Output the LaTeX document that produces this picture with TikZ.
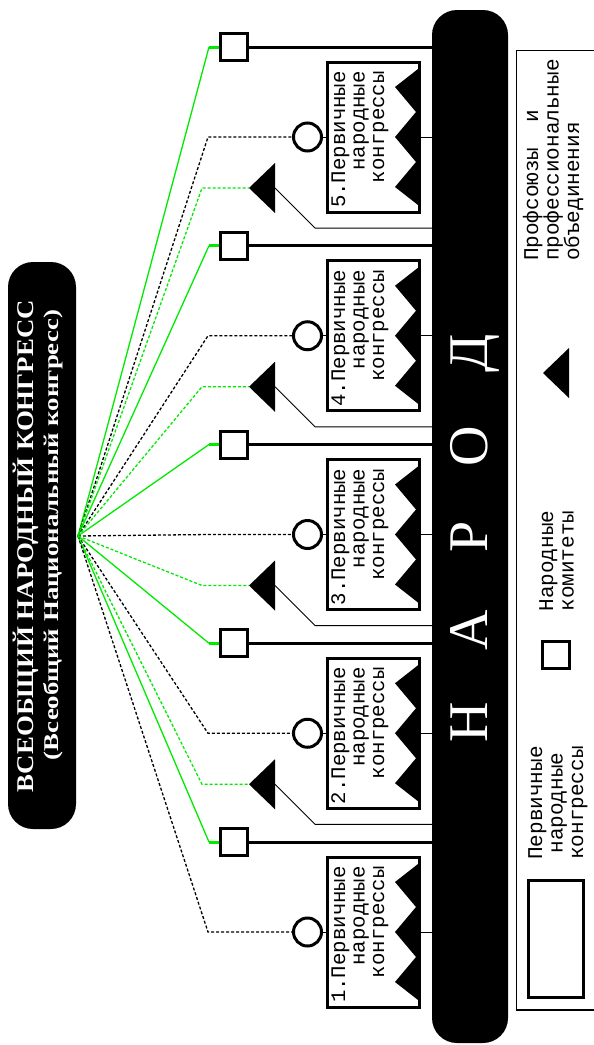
\documentclass[tikz,border=0pt]{standalone}
\usepackage{fontspec}
\usepackage{graphicx}
\setmainfont{Liberation Serif}
\newfontfamily\monof{Liberation Mono}
\definecolor{lgreen}{RGB}{0,235,0}
\pgfdeclarelayer{back}
\pgfdeclarelayer{bg}
\pgfsetlayers{back,bg,main}
\begin{document}
\begin{tikzpicture}[x=1pt,y=-1pt,
  sqnode/.style={draw, line width=3pt, minimum size=27pt, inner sep=0pt, fill=white},
  circnode/.style={draw, line width=3pt, circle, minimum size=28pt, inner sep=0pt, fill=white},
  cbox/.style={draw, line width=3pt, minimum width=92pt, minimum height=150pt, inner sep=0pt, fill=white},
  boxtext/.style={rotate=90, anchor=base east, align=right, inner sep=0pt, font=\monof\fontsize{20.7}{19.5}\selectfont},
  legtext/.style={rotate=90, inner sep=0pt, font=\monof\fontsize{21}{20.5}\selectfont},
  bigletter/.style={rotate=90, anchor=base, inner sep=0pt, text=white, font=\fontsize{56}{56}\selectfont},
  greenline/.style={draw=lgreen, line width=1.3pt},
  greenthick/.style={draw=lgreen, line width=3pt},
  greendash/.style={draw=lgreen, line width=1.3pt, dash pattern=on 3pt off 2pt},
  blackdash/.style={draw=black, line width=1.3pt, dash pattern=on 3pt off 2pt},
  thinline/.style={draw=black, line width=1pt},
  thickline/.style={draw=black, line width=3pt}
]
\useasboundingbox (0,0) rectangle (594,1045);
\begin{pgfonlayer}{back}
\fill[white] (0,0) rectangle (594,1045);
\end{pgfonlayer}

% header
\node[fill=black, rounded corners=25pt, minimum width=68pt, minimum height=567pt, inner sep=0pt] (hdr) at (42,545.5) {};
\node[rotate=90, anchor=base, text=white, inner sep=0pt] (hdrA) at (33,546)
  {\resizebox{492pt}{\height}{\fontsize{24}{24}\selectfont\bfseries ВСЕОБЩИЙ НАРОДНЫЙ КОНГРЕСС}};
\node[rotate=90, anchor=base, text=white, inner sep=0pt] (hdrB) at (58,535)
  {\resizebox{450pt}{\height}{\fontsize{21}{21}\selectfont\bfseries (Всеобщий Национальный конгресс)}};
\coordinate (F) at (78,536);

% people bar
\node[fill=black, rounded corners=25pt, minimum width=76pt, minimum height=1033pt, inner sep=0pt] (narod) at (470,526.5) {};
\node[bigletter] (lN) at (487,722) {Н};
\node[bigletter] (lA) at (487,630) {А};
\node[bigletter] (lR) at (487,537) {Р};
\node[bigletter] (lO) at (487,446) {О};
\node[bigletter] (lD) at (487,353) {Д};

% groups
\foreach \k in {1,...,5}{
  \pgfmathsetmacro{\yc}{932-198.75*(\k-1)}
  \pgfmathsetmacro{\ys}{\yc-90}
  \node[sqnode] (sq\k) at (234,\ys) {};
  \node[circnode] (circ\k) at (307.5,\yc) {};
  \node[cbox] (box\k) at (373.5,\yc) {};
  \fill (418,\yc-68) -- (395,\yc-50) -- (416,\yc-25) -- (395,\yc) -- (416,\yc+25) -- (395,\yc+50) -- (418,\yc+68) -- cycle;
  \node[boxtext] (bt\k) at (384,\yc-66) {\k.Первичные\\народные\\конгрессы};
  \coordinate (bs\k) at (209,\ys);
  \coordinate (bc\k) at (208,\yc);
  \begin{pgfonlayer}{bg}
    \draw[greenline] (F) -- (bs\k);
    \draw[greenthick] (bs\k) -- (sq\k.west);
    \draw[thickline] (sq\k.east) -- (sq\k.east -| narod.west);
    \draw[blackdash] (F) -- (bc\k) -- (circ\k.west);
    \draw[thinline] (circ\k.east) -- (circ\k.east -| narod.west);
  \end{pgfonlayer}
}
\foreach \k in {2,...,5}{
  \pgfmathsetmacro{\yc}{932-198.75*(\k-1)}
  \pgfmathsetmacro{\yt}{\yc+51}
  \coordinate (tt\k) at (249,\yt);
  \coordinate (tb\k) at (275,\yt);
  \coordinate (tg\k) at (202,\yt);
  \coordinate (td\k) at (315,\yt+40);
  \fill (tt\k) -- (275,\yt-25) -- (275,\yt+25) -- cycle;
  \begin{pgfonlayer}{bg}
    \draw[greendash] (F) -- (tg\k) -- (tt\k);
    \draw[thinline] (tb\k) -- (td\k) -- (td\k -| narod.west);
  \end{pgfonlayer}
}

% legend
\draw[line width=1.2pt] (516.5,50.5) rectangle (640,1010);
\node[draw, line width=3pt, minimum width=55pt, minimum height=117pt, inner sep=0pt] (lgbox) at (556,939) {};
\node[legtext, anchor=base, align=center] (lgboxt) at (583,803) {Первичные\\народные\\конгрессы};
\node[sqnode] (lgsq) at (556,655) {};
\node[legtext, anchor=base, align=center] (lgsqt) at (573.5,561) {Народные\\комитеты};
\coordinate (lgtt) at (543,373);
\fill (lgtt) -- (569,348) -- (569,398) -- cycle;
\node[legtext, anchor=base west, align=left] (lgtrt) at (579,261) {Профсоюзы\ \ и\\профессиональные\\объединения};
\end{tikzpicture}
\end{document}
